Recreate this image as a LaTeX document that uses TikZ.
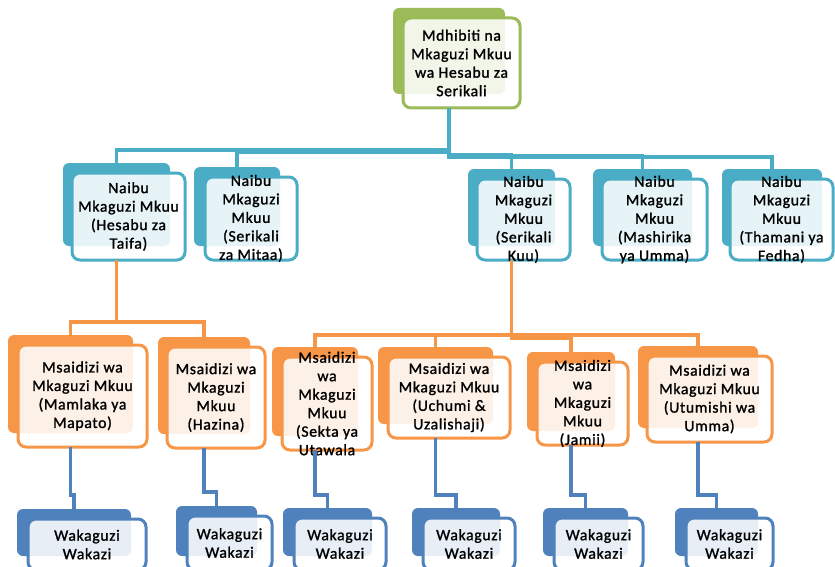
\documentclass[tikz,border=0pt]{standalone}
\usepackage{fontspec}
\newfontfamily\boxfont{Carlito}[LetterSpace=4,FakeBold=1.3]
\definecolor{greenc}{HTML}{9BBB59}
\definecolor{tealc}{HTML}{4BACC6}
\definecolor{orangec}{HTML}{F79646}
\definecolor{bluec}{HTML}{4F81BD}
\tikzset{
  backbox/.style={fill=#1, draw=none, rounded corners=6pt, inner sep=0pt, outer sep=0pt},
  frontbox/.style={draw=#1, line width=3pt, fill=white, fill opacity=0.87, rounded corners=8pt, inner sep=0pt, outer sep=0pt},
  txt/.style={align=center, text=black, inner sep=0pt, font=\boxfont\fontsize{15.8pt}{18.5pt}\selectfont},
  conn/.style={draw=#1, line width=3.5pt}
}
% #1 name, #2 colour, #3 back x1, #4 back x2, #5 front x1, #6 front y1, #7 front x2, #8 front y2, #9 text
\newcommand\OBox[9]{%
  \node[backbox=#2, anchor=north west, minimum width={(#4-#3)*1pt}, minimum height={(#8-#6-4)*1pt}] (#1b) at (#3,#6-10) {};
  \node[frontbox=#2, anchor=north west, minimum width={(#7-#5)*1pt}, minimum height={(#8-#6)*1pt}] (#1) at (#5,#6) {};
  \node[txt] (#1t) at (#1.center) {#9};
}
\begin{document}
\begin{tikzpicture}[x=1pt, y=-1pt]
\useasboundingbox (0,0) rectangle (835,567);
\clip (0,0) rectangle (835,567);
% level 1
\OBox{top}{greenc}{393}{505}{403}{18}{520}{108}{Mdhibiti na\\Mkaguzi Mkuu\\wa Hesabu za\\Serikali}
% level 2
\OBox{na}{tealc}{63}{170}{72}{173}{185}{260}{Naibu\\Mkaguzi Mkuu\\(Hesabu za\\Taifa)}
\OBox{nb}{tealc}{194}{280}{205}{177}{297}{260}{Naibu\\Mkaguzi\\Mkuu\\(Serikali\\za Mitaa)}
\OBox{nc}{tealc}{468}{555}{477}{179}{570}{260}{Naibu\\Mkaguzi\\Mkuu\\(Serikali\\Kuu)}
\OBox{nd}{tealc}{593}{692}{602}{179}{707}{260}{Naibu\\Mkaguzi\\Mkuu\\(Mashirika\\ya Umma)}
\OBox{ne}{tealc}{722}{822}{730}{179}{833}{260}{Naibu\\Mkaguzi\\Mkuu\\(Thamani ya\\Fedha)}
% level 3
\OBox{sa}{orangec}{8}{133}{18}{345}{147}{447}{Msaidizi wa\\Mkaguzi Mkuu\\(Mamlaka ya\\Mapato)}
\OBox{sb}{orangec}{158}{250}{167}{347}{265}{448}{Msaidizi wa\\Mkaguzi\\Mkuu\\(Hazina)}
\OBox{sc}{orangec}{272}{358}{282}{357}{372}{450}{Msaidizi\\wa\\Mkaguzi\\Mkuu\\(Sekta ya\\Utawala}
\OBox{sd}{orangec}{378}{493}{388}{357}{510}{438}{Msaidizi wa\\Mkaguzi Mkuu\\(Uchumi \&\\Uzalishaji)}
\OBox{se}{orangec}{527}{615}{537}{362}{628}{445}{Msaidizi\\wa\\Mkaguzi\\Mkuu\\(Jamii)}
\OBox{sf}{orangec}{638}{758}{647}{356}{772}{442}{Msaidizi wa\\Mkaguzi Mkuu\\(Utumishi wa\\Umma)}
% level 4
\OBox{wa}{bluec}{17}{131}{28}{519}{146}{570}{Wakaguzi\\Wakazi}
\OBox{wb}{bluec}{176}{257}{187}{516}{272}{570}{Wakaguzi\\Wakazi}
\OBox{wc}{bluec}{283}{372}{294}{518}{386}{570}{Wakaguzi\\Wakazi}
\OBox{wd}{bluec}{412}{500}{423}{518}{515}{570}{Wakaguzi\\Wakazi}
\OBox{we}{bluec}{543}{628}{554}{518}{643}{570}{Wakaguzi\\Wakazi}
\OBox{wf}{bluec}{675}{758}{686}{518}{773}{570}{Wakaguzi\\Wakazi}
% connectors level 1 -> 2
\draw[conn=tealc] (topb.north |- top.south) -- ++(0,42) -| (nab.north);
\draw[conn=tealc] (topb.north |- top.south) -- ++(0,44) -| (nbb.north);
\draw[conn=tealc] (topb.north |- top.south) -- ++(0,47) -| (ncb.north);
\draw[conn=tealc] (topb.north |- top.south) -- ++(0,48) -| (ndb.north);
\draw[conn=tealc] (topb.north |- top.south) -- ++(0,49) -| (neb.north);
% connectors level 2 -> 3
\draw[conn=orangec] (nab.north |- na.south) -- ++(0,62) -| (sab.north);
\draw[conn=orangec] (nab.north |- na.south) -- ++(0,62) -| (sbb.north);
\draw[conn=orangec] (ncb.north |- nc.south) -- ++(0,75) -| (scb.north);
\draw[conn=orangec] (ncb.north |- nc.south) -- ++(0,75) -| (sdb.north);
\draw[conn=orangec] (ncb.north |- nc.south) -- ++(0,78) -| (seb.north);
\draw[conn=orangec] (ncb.north |- nc.south) -- ++(0,75) -| (sfb.north);
% connectors level 3 -> 4
\draw[conn=bluec] (sab.north |- sa.south) -- ++(0,48) -| (wab.north);
\draw[conn=bluec] (sbb.north |- sb.south) -- ++(0,44) -| (wbb.north);
\draw[conn=bluec] (scb.north |- sc.south) -- ++(0,45) -| (wcb.north);
\draw[conn=bluec] (sdb.north |- sd.south) -- ++(0,57) -| (wdb.north);
\draw[conn=bluec] (seb.north |- se.south) -- ++(0,50) -| (web.north);
\draw[conn=bluec] (sfb.north |- sf.south) -- ++(0,53) -| (wfb.north);
\end{tikzpicture}
\end{document}
